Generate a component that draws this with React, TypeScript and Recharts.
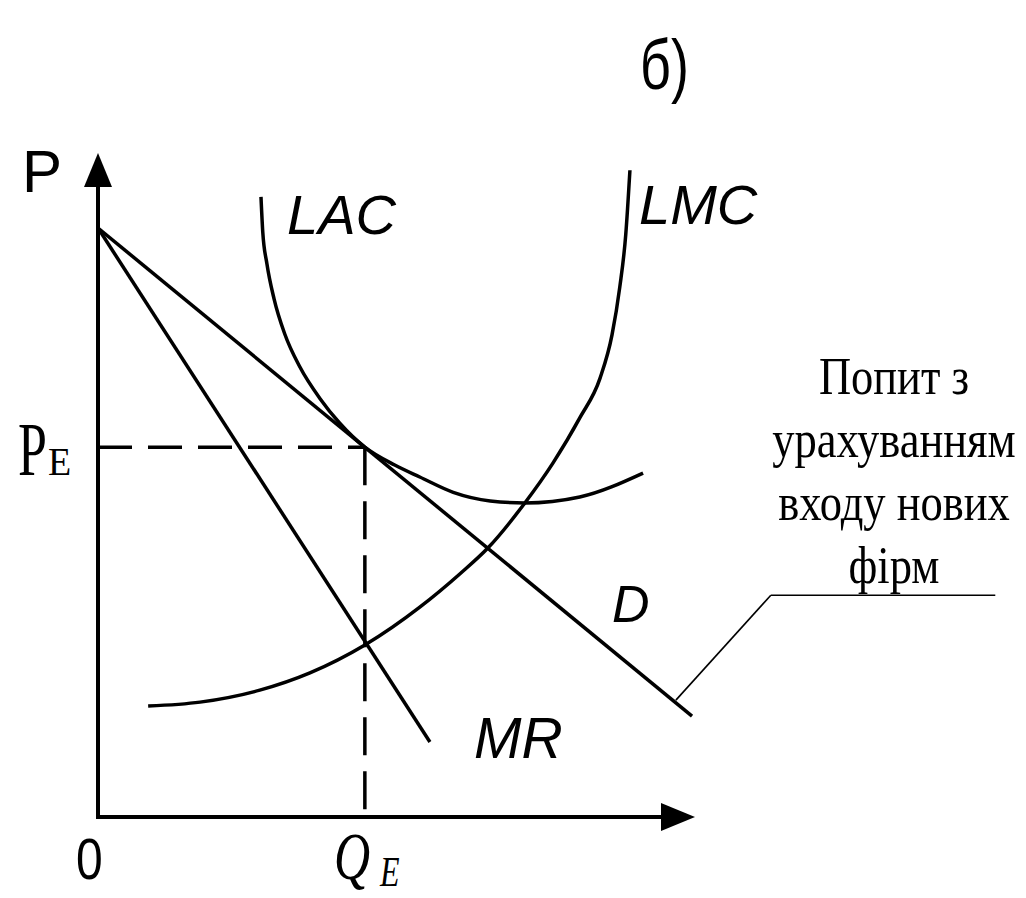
import React from 'react';
import { ComposedChart, Line, XAxis, YAxis, ReferenceLine } from 'recharts';

// quantity (q) and price (p), axis runs 0..10 both ways
const demand = [
  { q: 0, p: 8.87 },
  { q: 9.95, p: 1.52 },
];
const marginalRevenue = [
  { q: 0, p: 8.87 },
  { q: 5.56, p: 1.13 },
];
const longRunAvgCost = [
  { q: 2.73, p: 9.34 },
  { q: 2.76, p: 8.81 },
  { q: 2.83, p: 8.33 },
  { q: 2.95, p: 7.8 },
  { q: 3.13, p: 7.27 },
  { q: 3.38, p: 6.78 },
  { q: 3.72, p: 6.3 },
  { q: 4.05, p: 5.93 },
  { q: 4.47, p: 5.57 },
  { q: 4.97, p: 5.3 },
  { q: 5.39, p: 5.12 },
  { q: 5.95, p: 4.89 },
  { q: 6.57, p: 4.76 },
  { q: 7.15, p: 4.73 },
  { q: 8.07, p: 4.82 },
  { q: 9.13, p: 5.18 },
];
const longRunMarginalCost = [
  { q: 0.84, p: 1.67 },
  { q: 1.71, p: 1.73 },
  { q: 2.71, p: 1.91 },
  { q: 3.55, p: 2.17 },
  { q: 4.47, p: 2.59 },
  { q: 5.39, p: 3.16 },
  { q: 6.06, p: 3.66 },
  { q: 6.53, p: 4.05 },
  { q: 7.15, p: 4.73 },
  { q: 7.62, p: 5.33 },
  { q: 8.07, p: 6.01 },
  { q: 8.41, p: 6.61 },
  { q: 8.61, p: 7.26 },
  { q: 8.74, p: 7.98 },
  { q: 8.84, p: 8.77 },
  { q: 8.91, p: 9.74 },
];
const equilibrium = { q: 4.47, p: 5.57 };
const noteLeader = [
  { q: 9.68, p: 1.76 },
  { q: 11.27, p: 3.34 },
  { q: 15.03, p: 3.34 },
];
const demandNote = ['Попит з', 'урахуванням', 'входу нових', 'фірм'];

const W = 1010;
const H = 882;
const SANS = '"Liberation Sans", Arial, sans-serif';
const SERIF = '"Liberation Serif", "Times New Roman", serif';

const ArrowAxis = (props: any) => {
  const { x1, y1, x2, y2 } = props;
  const dx = x2 - x1;
  const dy = y2 - y1;
  const len = Math.hypot(dx, dy) || 1;
  const ux = dx / len;
  const uy = dy / len;
  const head = 34;
  const half = 14;
  const bx = x2 - ux * head;
  const by = y2 - uy * head;
  return (
    <g>
      <line x1={x1} y1={y1} x2={bx} y2={by} stroke="#000" strokeWidth={4} strokeLinecap="square" />
      <polygon
        points={`${x2},${y2} ${bx - uy * half},${by + ux * half} ${bx + uy * half},${by - ux * half}`}
        fill="#000"
      />
    </g>
  );
};

// the scan's lettering is taller than it is wide, so some labels get a vertical stretch
const Txt = ({ x, y, size, family, italic, stretch = 1, anchor = 'start', children }: any) => (
  <text
    transform={`translate(${x},${y}) scale(1,${stretch})`}
    fontSize={size}
    fontFamily={family}
    fontStyle={italic ? 'italic' : 'normal'}
    textAnchor={anchor}
    fill="#000"
  >
    {children}
  </text>
);

const curve = { stroke: '#000', strokeWidth: 3.5, dot: false, isAnimationActive: false } as const;

export default function App() {
  return (
    <div style={{ position: 'relative', width: W, height: H, background: '#fff' }}>
      <ComposedChart width={W} height={H} margin={{ top: 145, right: 323, bottom: 73, left: 90 }}>
        <XAxis type="number" dataKey="q" domain={[0, 10]} hide allowDataOverflow />
        <YAxis type="number" dataKey="p" domain={[0, 10]} hide allowDataOverflow />

        <ReferenceLine segment={[{ x: 0, y: 0 }, { x: 0, y: 10 }]} ifOverflow="visible" shape={ArrowAxis} />
        <ReferenceLine segment={[{ x: 0, y: 0 }, { x: 10, y: 0 }]} ifOverflow="visible" shape={ArrowAxis} />

        <ReferenceLine
          segment={[{ x: 0, y: equilibrium.p }, { x: equilibrium.q, y: equilibrium.p }]}
          stroke="#000"
          strokeWidth={3.5}
          strokeDasharray="34 16"
          ifOverflow="visible"
        />
        <ReferenceLine
          segment={[{ x: equilibrium.q, y: equilibrium.p }, { x: equilibrium.q, y: 0 }]}
          stroke="#000"
          strokeWidth={3.5}
          strokeDasharray="38 16"
          ifOverflow="visible"
        />

        <ReferenceLine segment={[noteLeader[0], noteLeader[1]].map((d) => ({ x: d.q, y: d.p }))} stroke="#000" strokeWidth={1.6} ifOverflow="visible" />
        <ReferenceLine segment={[noteLeader[1], noteLeader[2]].map((d) => ({ x: d.q, y: d.p }))} stroke="#000" strokeWidth={1.6} ifOverflow="visible" />

        <Line data={demand} dataKey="p" type="linear" {...curve} />
        <Line data={marginalRevenue} dataKey="p" type="linear" {...curve} />
        <Line data={longRunAvgCost} dataKey="p" type="monotone" {...curve} />
        <Line data={longRunMarginalCost} dataKey="p" type="monotone" {...curve} />
      </ComposedChart>

      <svg width={W} height={H} style={{ position: 'absolute', left: 0, top: 0, pointerEvents: 'none', overflow: 'visible' }}>
        <Txt x={632} y={81} size={54} family={SANS} stretch={1.3}>б)</Txt>
        <Txt x={14} y={184} size={60} family={SANS}>P</Txt>
        <Txt x={279} y={226} size={56} family={SANS} italic>LAC</Txt>
        <Txt x={631} y={216} size={56} family={SANS} italic>LMC</Txt>
        <Txt x={604} y={614} size={52} family={SANS} italic>D</Txt>
        <Txt x={466} y={750} size={57} family={SANS} italic>MR</Txt>
        <Txt x={68} y={871} size={48} family={SANS} stretch={1.2}>0</Txt>

        <Txt x={10} y={467} size={52} family={SERIF} stretch={1.45}>P</Txt>
        <Txt x={40} y={467} size={38} family={SERIF} stretch={1.08}>E</Txt>
        <Txt x={326} y={871} size={50} family={SERIF} italic stretch={1.35}>Q</Txt>
        <Txt x={372} y={878} size={32} family={SERIF} italic stretch={1.35}>E</Txt>

        {demandNote.map((line, i) => (
          <Txt key={line} x={886} y={386 + i * 63} size={44.5} family={SERIF} anchor="middle" stretch={1.17}>
            {line}
          </Txt>
        ))}
      </svg>
    </div>
  );
}
